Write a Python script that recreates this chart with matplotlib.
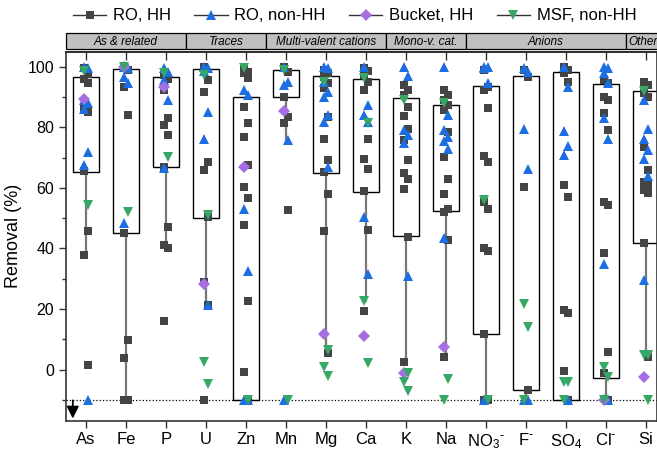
import matplotlib.pyplot as plt
from matplotlib.lines import Line2D
from matplotlib.patches import Rectangle
from matplotlib.ticker import MultipleLocator

plt.rcParams['font.family'] = ['Liberation Sans', 'DejaVu Sans']
plt.rcParams['mathtext.default'] = 'regular'

elements = ['As', 'Fe', 'P', 'U', 'Zn', 'Mn', 'Mg', 'Ca', 'K', 'Na',
            r'NO$_3$$^{\text{-}}$', r'F$^{\text{-}}$', r'SO$_4$', r'Cl$^{\text{-}}$', 'Si']
groups = ['As & related', 'Traces', 'Multi-valent cations', 'Mono-v. cat.', 'Anions', 'Other']
group_sizes = [3, 2, 3, 2, 4, 1]

# box limits and lower whisker per element
box_hi = [96.7, 99.3, 96.5, 99.2, 90.0, 99.0, 97.0, 95.9, 89.6, 87.3, 93.7, 97.0, 98.3, 94.3, 92.0]
box_lo = [65.4, 45.0, 66.8, 50.2, -10, 89.9, 64.9, 58.7, 44.2, 52.3, 11.6, -6.9, -10, -2.7, 41.8]
whisk_lo = [37.8, -10, 40.5, 21.2, -10, 75.6, 5.6, 22.7, 2.5, 4.0, -10, -10, -10, -10, 4.0]

ro_hh = [
    [99.5, 97.5, 96, 94.5, 86, 85, 65.6, 45.7, 37.8, 1.4],
    [99.5, 99, 93.4, 84, 45.1, 9.7, 3.8, -10, -10],
    [97.2, 96, 92.3, 83, 80.7, 77.4, 67, 47, 41, 40, 16],
    [100, 95.6, 91.7, 68.6, 66, 50.4, 29, 21.2, -10],
    [99.5, 98.4, 97.8, 96.2, 86.8, 81.3, 76.9, 67.5, 60.3, 56.7, 47.7, 22.7, -0.9, -10],
    [100, 98.3, 90.1, 83.5, 81.5, 52.6],
    [99, 98, 96.7, 94.5, 92.9, 83.5, 76, 69.2, 65.3, 57.9, 45.8, 5.6],
    [99.5, 98.5, 97.2, 95, 92.3, 76, 69.4, 66.1, 59, 46, 19.4],
    [94, 92.3, 90.6, 86.8, 83.7, 79.6, 75.8, 69.2, 64.8, 63.1, 59.5, 43.8, 2.5],
    [92.3, 90.6, 89, 87.3, 85.7, 78.5, 70.3, 63.1, 57.9, 52.9, 52, 42.7, 4],
    [99.1, 93.4, 92.5, 86.3, 70.5, 68.6, 55.4, 52.9, 40, 39.2, 11.7, -10, -10],
    [99, 96.5, 60.3, -6.8],
    [100, 99, 97.8, 95, 60.9, 57, 19.8, 18.7, -0.4, -10],
    [95.6, 94.5, 90.1, 89, 84.6, 79.1, 55.4, 54.3, 38.5, 5.8, -1.3, -10],
    [95, 94, 91.2, 90, 73.6, 65.9, 62, 61, 59.3, 58.4, 41.8, 4],
]
ro_nonhh = [
    [100, 99.5, 89, 88, 86, 72, 67.5, -10],
    [100, 99.5, 96.7, 94.5, 48.3],
    [99.5, 98.3, 95.6, 89, 66.5],
    [100, 99.5, 98.5, 85.1, 76.3, 21.2],
    [92.3, 90.6, 53.2, 32.5, -10, -10],
    [100, 95, 94, 75.8, -10],
    [100, 99.5, 95, 91.7, 90.1, 84, 81.8, 67],
    [100, 87.3, 84, 81.8, 50.4, 31.7],
    [100, 97, 79, 77.4, 74.7, 30.8],
    [100, 84, 79, 76.7, 75.6, 72.7, 43.3],
    [100, 100, 99.5, 94.5, -10],
    [99.5, 98.3, 79.3, 66.4, -10, -10],
    [100, 93.4, 78.9, 73.8, 70.8, -10],
    [100, 99.5, 98, 94.5, 83, 76, 34.8, -10],
    [89.2, 79.3, 76, 72.5, 69.7, 63.9, 29.7],
]
bucket_hh = [[89.5], [100], [93.4], [28.4], [67], [85.5], [11.7], [11], [-1], [7.5],
             [], [], [], [-10], [-2.4]]
msf_nonhh = [
    [98.5, 54.3],
    [100, 52],
    [98, 70.3],
    [97.2, 51, 2.5, -4.9],
    [99.5, -10],
    [99, -10],
    [95, 6.4, 0.9, -2.2],
    [96.2, 81.3, 22.7, 2],
    [89, -1.3, -4.1, -7.1],
    [87.9, -3, -10],
    [56, -10],
    [21.6, 14.1, -10],
    [-4.1, -4.1, -10],
    [0.9, -2.4, -10],
    [92.1, 4.7, 4.7, -10],
]

series = [
    ('RO, HH', ro_hh, 's', '#444444', 6.3),
    ('RO, non-HH', ro_nonhh, '^', '#1c6fe3', 7.2),
    ('Bucket, HH', bucket_hh, 'D', '#a66ee0', 5.8),
    ('MSF, non-HH', msf_nonhh, 'v', '#35a866', 7.2),
]

W, H = 657, 450
fig = plt.figure(figsize=(W / 100, H / 100), dpi=100)
left, right, bottom, top = 66, 657, 421, 51.7
ax = fig.add_axes([left / W, (H - bottom) / H, (right - left) / W, (bottom - top) / H])
xmin, xmax = -0.5, 14.275

# boxes
stats = [dict(med=lo, q1=lo, q3=hi, whislo=wl, whishi=hi)
         for lo, hi, wl in zip(box_lo, box_hi, whisk_lo)]
ax.bxp(stats, positions=range(len(elements)), widths=0.64, showcaps=False,
       showfliers=False, patch_artist=True,
       boxprops=dict(facecolor='none', edgecolor='black', linewidth=1.0),
       whiskerprops=dict(color='#777777', linewidth=1.6),
       medianprops=dict(linewidth=0))

ax.axhline(-10, color='black', linestyle=':', linewidth=0.9, zorder=1)

for name, data, mk, col, ms in series:
    for i, vals in enumerate(data):
        xs = [i + (0.04 if j % 2 else -0.04) for j in range(len(vals))]
        ax.plot(xs, vals, linestyle='none', marker=mk, color=col, markersize=ms,
                markeredgewidth=0, zorder=3)

# arrow: values below -10 are clipped
ax.annotate('', xy=(-0.33, -16.2), xytext=(-0.33, -10.2),
            arrowprops=dict(arrowstyle='-|>,head_length=0.6,head_width=0.3',
                            color='black', lw=1.3, mutation_scale=12,
                            shrinkA=0, shrinkB=0))

ax.set_xlim(xmin, xmax)
ax.set_ylim(-17, 105)
ax.set_xticks(range(len(elements)))
ax.set_xticklabels(elements, fontsize=12)
ax.yaxis.set_major_locator(MultipleLocator(20))
ax.yaxis.set_minor_locator(MultipleLocator(10))
ax.tick_params(axis='y', labelsize=11.5, length=5, width=1, color='#333333')
ax.tick_params(axis='y', which='minor', length=3, width=1, color='#333333')
ax.tick_params(axis='x', length=5, width=1, color='#333333', pad=3)
ax.set_ylabel('Removal (%)', fontsize=13, labelpad=4)
for s in ax.spines.values():
    s.set_linewidth(1.2)
    s.set_color('#333333')

sec = ax.secondary_xaxis('top')
sec.set_xticks(range(len(elements)))
sec.tick_params(direction='in', length=6, width=1, color='#333333', labeltop=False)
sec.spines['top'].set_linewidth(1.2)

# group header strip
hax = fig.add_axes([left / W, (H - 49) / H, (right - left) / W, 16 / H])
hax.set_xlim(xmin, xmax)
hax.set_ylim(0, 1)
hax.axis('off')
start = -0.5
for g, n in zip(groups, group_sizes):
    hax.add_patch(Rectangle((start, 0), n, 1, facecolor='#c0c0c0', edgecolor='black',
                            linewidth=0.9, clip_on=False))
    if g == 'Other':
        hax.text(start + 0.05, 0.45, g, ha='left', va='center', style='italic', fontsize=8.5)
    else:
        hax.text(start + n / 2, 0.45, g, ha='center', va='center', style='italic', fontsize=8.5)
    start += n

handles = [Line2D([0], [0], color='#333333', lw=1, marker=mk, markerfacecolor=col,
                  markeredgewidth=0, markersize=ms)
           for _, _, mk, col, ms in series]
fig.legend(handles, [s[0] for s in series], loc='center left',
           bbox_to_anchor=(58 / W, 1 - 16 / H), ncol=4, frameon=False, fontsize=12,
           handlelength=2.0, columnspacing=1.4, handletextpad=0.4)

fig.savefig('out.png', dpi=100)
